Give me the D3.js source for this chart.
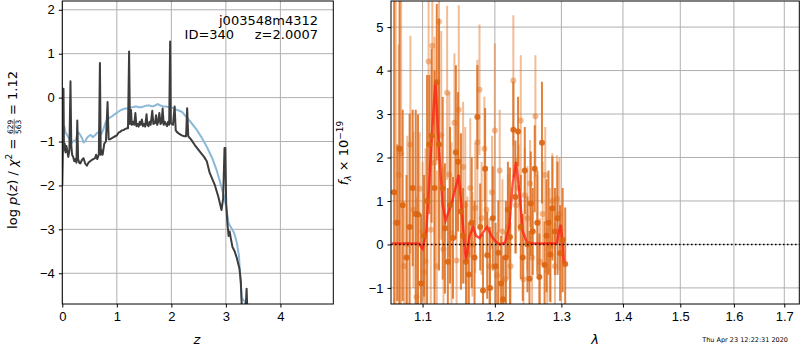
<!DOCTYPE html>
<meta charset="utf-8">
<style>
body { margin: 0; background: #fff; }
svg { font-family: "DejaVu Sans", sans-serif; }
.axis text { font-size: 13px; fill: #000; }
.axis line { stroke: #000; }
.axis path { display: none; }
.grid line { stroke: #b0b0b0; stroke-width: 1; }
</style>
<div id="chart"></div>
<script src="https://d3js.org/d3.v7.min.js"></script>
<script>

// ---- left panel: redshift probability ----
var zTicks = [0, 1, 2, 3, 4],
    pzTicks = [-4, -3, -2, -1, 0, 1, 2];

var zDark = [0.000, 0.010, 0.022, 0.030, 0.045, 0.060, 0.075, 0.090, 0.110, 0.130, 0.150, 0.165, 0.180, 0.200, 0.220, 0.240, 0.260, 0.275, 0.290, 0.310, 0.330, 0.360, 0.390, 0.420, 0.450, 0.480, 0.510, 0.540, 0.570, 0.600, 0.620, 0.640, 0.670, 0.690, 0.705, 0.720, 0.740, 0.770, 0.800, 0.830, 0.850, 0.880, 0.910, 0.940, 0.970, 1.000, 1.030, 1.060, 1.090, 1.120, 1.150, 1.180, 1.205, 1.225, 1.240, 1.260, 1.275, 1.300, 1.320, 1.340, 1.360, 1.380, 1.400, 1.420, 1.440, 1.460, 1.480, 1.500, 1.520, 1.545, 1.560, 1.580, 1.600, 1.620, 1.650, 1.670, 1.700, 1.720, 1.740, 1.760, 1.780, 1.800, 1.820, 1.840, 1.860, 1.880, 1.900, 1.920, 1.940, 1.960, 1.978, 1.990, 2.010, 2.030, 2.060, 2.080, 2.100, 2.140, 2.190, 2.240, 2.270, 2.290, 2.310, 2.360, 2.430, 2.530, 2.600, 2.650, 2.700, 2.800, 2.860, 2.920, 2.950, 2.975, 2.990, 3.005, 3.030, 3.050, 3.070, 3.090, 3.120, 3.160, 3.200, 3.250, 3.275, 3.295, 3.360, 3.380, 3.395];
var lnpDark = [-2.00, -1.30, 0.20, -1.20, -1.05, -1.25, -1.10, -1.20, -1.35, -1.20, 0.37, -1.10, -1.30, -1.35, -1.45, -1.40, -1.48, -0.52, -1.40, -1.48, -1.50, -1.42, -1.38, -1.50, -1.55, -1.48, -1.45, -1.42, -1.40, -1.38, -1.30, -1.40, -1.30, 0.79, -1.30, -1.20, -1.30, -1.05, -1.00, -0.10, -0.95, -0.95, -0.92, -0.90, -0.88, -0.86, -0.80, -0.78, -0.75, -0.74, -0.72, -0.70, -0.70, 1.05, -0.60, -0.28, -0.62, -0.55, -0.62, -0.35, -0.65, -0.60, -0.66, -0.55, -0.62, -0.50, -0.65, -0.60, -0.66, -0.38, -0.62, -0.65, -0.55, -0.62, -0.30, -0.60, -0.58, -0.40, -0.62, -0.55, -0.35, -0.60, -0.58, -0.25, -0.62, -0.55, -0.60, -0.65, -0.55, -0.62, 1.28, -0.58, -0.60, -0.62, -0.20, -0.74, -0.78, -0.82, -0.86, -0.88, -0.88, -0.24, -0.88, -0.95, -1.08, -1.24, -1.35, -1.45, -1.70, -2.00, -2.25, -2.56, -2.30, -1.15, -1.15, -2.40, -2.90, -3.15, -3.05, -3.20, -3.40, -3.50, -3.65, -3.90, -4.20, -4.90, -4.90, -4.35, -4.90];

var zBlue = [0.00, 0.02, 0.04, 0.06, 0.09, 0.12, 0.15, 0.18, 0.21, 0.24, 0.27, 0.30, 0.33, 0.36, 0.39, 0.42, 0.45, 0.48, 0.52, 0.56, 0.60, 0.64, 0.68, 0.72, 0.76, 0.80, 0.84, 0.88, 0.92, 0.96, 1.00, 1.05, 1.10, 1.15, 1.20, 1.25, 1.30, 1.35, 1.40, 1.45, 1.50, 1.55, 1.60, 1.65, 1.70, 1.75, 1.80, 1.85, 1.90, 1.95, 2.00, 2.05, 2.10, 2.15, 2.20, 2.28, 2.35, 2.47, 2.55, 2.65, 2.75, 2.83, 2.90, 2.95, 3.00, 3.05, 3.10, 3.15, 3.20, 3.24, 3.26, 3.29, 3.35, 3.40];
var lnpBlue = [-0.90, -0.72, -0.68, -0.80, -0.85, -0.92, -0.98, -1.02, -0.98, -1.00, -0.85, -0.80, -0.85, -0.92, -1.02, -1.00, -0.92, -0.88, -0.85, -0.90, -0.86, -0.80, -0.78, -0.82, -0.70, -0.55, -0.48, -0.45, -0.42, -0.38, -0.35, -0.30, -0.27, -0.25, -0.25, -0.22, -0.22, -0.20, -0.22, -0.22, -0.20, -0.18, -0.18, -0.20, -0.18, -0.15, -0.18, -0.20, -0.20, -0.22, -0.22, -0.25, -0.28, -0.30, -0.33, -0.45, -0.55, -0.74, -0.90, -1.12, -1.38, -1.65, -1.95, -2.18, -2.45, -2.86, -2.97, -3.08, -3.30, -3.60, -4.03, -4.56, -4.66, -4.90];

// ---- right panel: spectrum ----
var lamTicks = [1.1, 1.2, 1.3, 1.4, 1.5, 1.6, 1.7],
    fluxTicks = [-1, 0, 1, 2, 3, 4, 5];

var lamDark = [1.063, 1.067, 1.070, 1.074, 1.079, 1.083, 1.087, 1.091, 1.094, 1.098, 1.102, 1.106, 1.109, 1.112, 1.116, 1.119, 1.122, 1.127, 1.130, 1.134, 1.137, 1.141, 1.145, 1.148, 1.152, 1.155, 1.159, 1.163, 1.167, 1.171, 1.175, 1.179, 1.183, 1.186, 1.189, 1.193, 1.197, 1.201, 1.205, 1.209, 1.212, 1.216, 1.219, 1.222, 1.227, 1.230, 1.234, 1.238, 1.241, 1.244, 1.248, 1.251, 1.253, 1.256, 1.259, 1.263, 1.266, 1.270, 1.274, 1.277, 1.280, 1.283, 1.286, 1.290, 1.294, 1.298, 1.302, 1.306];
var fluxDark = [1.2, 0.5, 2.2, 0.9, -0.3, 0.4, 1.3, 0.7, 0.69, -0.9, 0.2, 1.0, 2.3, 2.5, 1.3, 3.73, 2.3, 1.29, 0.37, -0.4, 0.9, 0.15, 2.12, 1.9, 0.76, 0.2, -0.4, -0.69, 0.5, -0.3, 2.93, 0.4, -1.06, 1.74, -0.25, -1.0, 0.6, -0.5, -0.19, -0.9, -1.26, -0.3, 0.8, 0.17, 2.64, 1.09, 2.6, 0.4, -0.3, 1.7, 0.0, -0.79, 0.94, 0.3, 1.74, 0.5, -0.75, 2.34, -0.47, 0.2, 0.5, -0.23, 0.83, 0.3, 0.6, -0.2, 0.1, -0.45];
var errDark = [5.0, 1.8, 4.8, 2.2, 1.9, 2.6, 1.8, 2.4, 2.3, 1.6, 1.4, 2.9, 1.6, 2.0, 2.7, 1.8, 2.9, 2.1, 1.5, 1.7, 1.8, 1.4, 2.0, 1.6, 1.8, 1.1, 1.4, 1.2, 1.5, 1.3, 1.2, 1.0, 1.3, 1.4, 1.0, 1.4, 1.2, 1.0, 1.2, 1.1, 1.0, 1.3, 1.1, 1.6, 1.1, 1.3, 0.8, 1.2, 1.0, 1.0, 1.1, 1.1, 1.2, 1.0, 1.0, 1.2, 1.0, 1.4, 1.0, 1.3, 1.2, 1.1, 1.2, 1.0, 1.3, 1.1, 1.2, 1.3];

var lamLight = [1.065, 1.069, 1.072, 1.076, 1.080, 1.084, 1.088, 1.092, 1.096, 1.100, 1.102, 1.104, 1.108, 1.111, 1.113, 1.116, 1.119, 1.122, 1.125, 1.128, 1.133, 1.136, 1.139, 1.143, 1.146, 1.149, 1.155, 1.158, 1.161, 1.165, 1.168, 1.172, 1.175, 1.178, 1.181, 1.185, 1.188, 1.192, 1.196, 1.200, 1.203, 1.207, 1.211, 1.215, 1.219, 1.223, 1.227, 1.231, 1.235, 1.238, 1.242, 1.244, 1.248, 1.252, 1.255, 1.260, 1.263, 1.267, 1.271, 1.275, 1.278, 1.282, 1.286, 1.290, 1.293, 1.297];
var fluxLight = [0.5, 1.6, 2.1, -0.5, 0.0, 2.3, 0.8, -1.21, 1.28, 0.3, -0.64, -0.39, 4.21, 0.34, 4.57, 1.88, -0.5, 5.12, 2.51, -0.11, 3.49, 1.61, 0.25, 2.8, -0.37, 3.1, 1.78, 0.9, -0.2, 1.3, 0.0, 0.84, 2.35, 3.56, 0.6, 2.2, 0.8, -0.5, 1.2, 2.62, -0.71, 1.7, 0.3, -0.8, 0.4, -0.5, 3.77, 0.9, 1.3, 2.85, -0.8, 1.13, 0.6, 1.4, -0.3, 2.95, 0.5, -0.4, 0.7, 1.6, -0.6, 0.0, 1.0, -0.5, 1.05, 0.7];
var errLight = [5.5, 3.0, 4.2, 1.5, 2.5, 2.5, 1.8, 2.3, 1.3, 1.6, 1.8, 2.6, 2.5, 2.2, 1.8, 2.9, 2.2, 2.3, 2.4, 1.9, 2.0, 1.9, 2.1, 1.6, 1.4, 2.4, 1.5, 1.8, 1.3, 1.6, 1.2, 1.5, 1.9, 1.5, 1.3, 1.2, 1.0, 1.1, 1.3, 2.0, 1.0, 1.4, 1.2, 1.1, 1.2, 1.0, 1.5, 1.1, 1.0, 1.5, 1.0, 1.1, 1.2, 1.0, 1.1, 1.4, 1.1, 1.0, 1.2, 1.1, 1.0, 1.3, 1.1, 1.0, 1.0, 1.3];

var lamModel = [1.060, 1.095, 1.100, 1.105, 1.110, 1.117, 1.122, 1.127, 1.131, 1.140, 1.149, 1.154, 1.159, 1.164, 1.169, 1.173, 1.178, 1.184, 1.189, 1.195, 1.202, 1.208, 1.215, 1.221, 1.226, 1.231, 1.236, 1.241, 1.247, 1.255, 1.293, 1.296, 1.299, 1.302, 1.304];
var fluxModel = [0.02, 0.02, -0.10, 0.30, 1.80, 3.75, 2.20, 0.90, 0.55, 1.00, 1.60, 0.60, -0.40, 0.20, 0.40, 0.20, 0.15, 0.30, 0.40, 0.20, 0.05, 0.00, 0.05, 0.40, 1.40, 1.90, 1.20, 0.30, 0.05, 0.02, 0.02, 0.30, 0.45, 0.00, -0.45];

var svg = d3.select("#chart").append("svg")
    .attr("width", 800)
    .attr("height", 350);

var L = {left: 62.3, right: 333.3, top: 1, bottom: 304},
    R = {left: 391, right: 799.3, top: 1, bottom: 304};

var zx = d3.scaleLinear().domain([0, 4.97]).range([L.left, L.right]),
    ly = d3.scaleLinear().domain([-4.70, 2.20]).range([L.bottom, L.top]),
    rx = d3.scaleLog().domain([1.059, 1.731]).range([R.left, R.right]),
    ry = d3.scaleLinear().domain([-1.37, 5.60]).range([R.bottom, R.top]);

var defs = svg.append("defs");
defs.append("clipPath").attr("id", "clipL").append("rect")
    .attr("x", L.left).attr("y", L.top).attr("width", L.right - L.left).attr("height", L.bottom - L.top);
defs.append("clipPath").attr("id", "clipR").append("rect")
    .attr("x", R.left).attr("y", R.top).attr("width", R.right - R.left).attr("height", R.bottom - R.top);

function grid(box, xs, xt, ys, yt) {
  var g = svg.append("g").attr("class", "grid");
  g.selectAll(".gx").data(xt).enter().append("line")
      .attr("x1", function(d) { return xs(d); }).attr("x2", function(d) { return xs(d); })
      .attr("y1", box.top).attr("y2", box.bottom);
  g.selectAll(".gy").data(yt).enter().append("line")
      .attr("y1", function(d) { return ys(d); }).attr("y2", function(d) { return ys(d); })
      .attr("x1", box.left).attr("x2", box.right);
}

function axes(box, xs, xt, ys, yt, fmt) {
  svg.append("g")
      .attr("class", "axis")
      .attr("transform", "translate(0," + box.bottom + ")")
      .call(d3.axisBottom(xs).tickValues(xt).tickFormat(fmt).tickSize(3.5).tickPadding(4));
  svg.append("g")
      .attr("class", "axis")
      .attr("transform", "translate(" + box.left + ",0)")
      .call(d3.axisLeft(ys).tickValues(yt).tickFormat(d3.format("d")).tickSize(3.5).tickPadding(4));
  svg.append("rect")
      .attr("x", box.left).attr("y", box.top)
      .attr("width", box.right - box.left).attr("height", box.bottom - box.top)
      .attr("fill", "none").attr("stroke", "#000").attr("stroke-width", 1);
}

// left panel
grid(L, zx, zTicks, ly, pzTicks);

var gl = svg.append("g").attr("clip-path", "url(#clipL)");
var lineL = d3.line().x(function(d) { return zx(d[0]); }).y(function(d) { return ly(d[1]); });

gl.append("path")
    .datum(d3.zip(zBlue, lnpBlue))
    .attr("d", lineL)
    .attr("fill", "none").attr("stroke", "#8cb9da").attr("stroke-width", 2);

gl.append("path")
    .datum(d3.zip(zDark, lnpDark))
    .attr("d", lineL)
    .attr("fill", "none").attr("stroke", "#3d3d3d").attr("stroke-width", 2).attr("stroke-linejoin", "round");

axes(L, zx, zTicks, ly, pzTicks, d3.format("d"));

svg.append("text").attr("x", 318).attr("y", 25).attr("text-anchor", "end")
    .style("font-size", "13px").text("j003548m4312");
svg.append("text").attr("x", 318).attr("y", 39).attr("text-anchor", "end")
    .style("font-size", "13px").style("white-space", "pre").text("ID=340     z=2.0007");

svg.append("text").attr("x", 197).attr("y", 344).attr("text-anchor", "middle")
    .style("font-size", "13px").style("font-style", "italic").text("z");

// left y label with a stacked fraction
var yl = svg.append("g").attr("transform", "translate(17,150) rotate(-90)");
var t1 = yl.append("text").style("font-size", "13px").style("white-space", "pre");
t1.append("tspan").text("log ");
t1.append("tspan").style("font-style", "italic").text("p");
t1.append("tspan").text("(");
t1.append("tspan").style("font-style", "italic").text("z");
t1.append("tspan").text(") / ");
t1.append("tspan").style("font-style", "italic").text("χ");
t1.append("tspan").attr("dy", -5).style("font-size", "9px").text("2");
t1.append("tspan").attr("dy", 5).text(" = ");
var w1 = t1.node().getComputedTextLength();
var fr = yl.append("g");
var num = fr.append("text").attr("y", -4).style("font-size", "7.5px").text("629");
var den = fr.append("text").attr("y", 3.5).style("font-size", "7.5px").text("563");
var wf = Math.max(num.node().getComputedTextLength(), den.node().getComputedTextLength()) + 1;
fr.append("line").attr("x1", 0).attr("x2", wf).attr("y1", -2.8).attr("y2", -2.8)
    .attr("stroke", "#000").attr("stroke-width", 0.6);
var t2 = yl.append("text").style("font-size", "13px").style("white-space", "pre").text(" = 1.12");
var w2 = t2.node().getComputedTextLength();
var x0 = -(w1 + wf + w2) / 2;
t1.attr("x", x0);
fr.attr("transform", "translate(" + (x0 + w1) + ",0)");
num.attr("x", 0.5); den.attr("x", 0.5);
t2.attr("x", x0 + w1 + wf);

// right panel
grid(R, rx, lamTicks, ry, fluxTicks);

var gr = svg.append("g").attr("clip-path", "url(#clipR)");
var light = d3.range(lamLight.length).map(function(i) { return [lamLight[i], fluxLight[i], errLight[i]]; }),
    dark = d3.range(lamDark.length).map(function(i) { return [lamDark[i], fluxDark[i], errDark[i]]; });

gr.selectAll(".ebl").data(light).enter().append("line")
    .attr("x1", function(d) { return rx(d[0]); }).attr("x2", function(d) { return rx(d[0]); })
    .attr("y1", function(d) { return ry(d[1] - d[2]); }).attr("y2", function(d) { return ry(d[1] + d[2]); })
    .attr("stroke", "#e67a2c").attr("stroke-opacity", 0.5).attr("stroke-width", 2);
gr.selectAll(".ptl").data(light).enter().append("circle")
    .attr("cx", function(d) { return rx(d[0]); }).attr("cy", function(d) { return ry(d[1]); })
    .attr("r", 3).attr("fill", "#e67a2c").attr("fill-opacity", 0.5);

gr.selectAll(".ebd").data(dark).enter().append("line")
    .attr("x1", function(d) { return rx(d[0]); }).attr("x2", function(d) { return rx(d[0]); })
    .attr("y1", function(d) { return ry(d[1] - d[2]); }).attr("y2", function(d) { return ry(d[1] + d[2]); })
    .attr("stroke", "#dd6c1c").attr("stroke-opacity", 0.85).attr("stroke-width", 2);

gr.append("path")
    .datum(d3.zip(lamModel, fluxModel))
    .attr("d", d3.line().x(function(d) { return rx(d[0]); }).y(function(d) { return ry(d[1]); }))
    .attr("fill", "none").attr("stroke", "#ff1a10").attr("stroke-opacity", 0.75).attr("stroke-width", 2.5);

gr.selectAll(".ptd").data(dark).enter().append("circle")
    .attr("cx", function(d) { return rx(d[0]); }).attr("cy", function(d) { return ry(d[1]); })
    .attr("r", 3).attr("fill", "#dc6410").attr("fill-opacity", 0.9);

svg.append("line")
    .attr("x1", R.left).attr("x2", R.right).attr("y1", ry(0)).attr("y2", ry(0))
    .attr("stroke", "#000").attr("stroke-width", 1.5).attr("stroke-dasharray", "1.5,2.5");

axes(R, rx, lamTicks, ry, fluxTicks, d3.format(".1f"));

svg.append("text").attr("x", 595).attr("y", 344).attr("text-anchor", "middle")
    .style("font-size", "13px").style("font-style", "italic").text("λ");

var yr = svg.append("text").attr("transform", "translate(348,153) rotate(-90)")
    .attr("text-anchor", "middle").style("font-size", "13px");
yr.append("tspan").style("font-style", "italic").text("f");
yr.append("tspan").attr("dy", 3).style("font-size", "9px").style("font-style", "italic").text("λ");
yr.append("tspan").attr("dy", -3).text(" × 10");
yr.append("tspan").attr("dy", -5).style("font-size", "9px").text("−19");

svg.append("text").attr("x", 788).attr("y", 342).attr("text-anchor", "end")
    .style("font-size", "6.5px").text("Thu Apr 23 12:22:31 2020");

</script>
